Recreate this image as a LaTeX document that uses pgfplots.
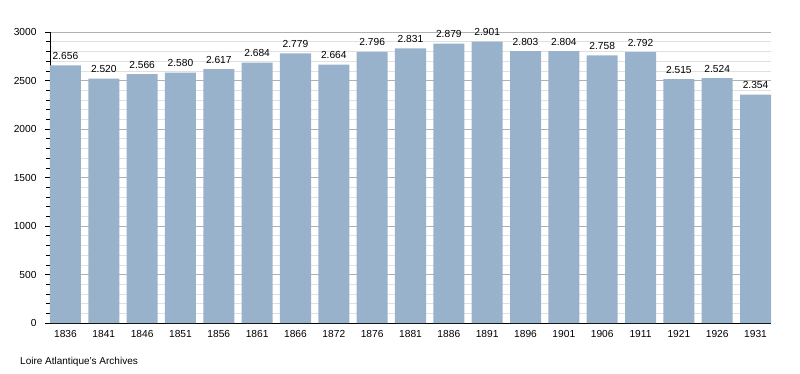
\documentclass[border=0pt]{standalone}
\usepackage{pgfplots}
\pgfplotsset{compat=1.18}
\usepackage{fontspec}
\setmainfont{Liberation Sans}
\definecolor{barblue}{RGB}{153,178,204}
\definecolor{majgrid}{RGB}{176,176,176}
\definecolor{mingrid}{RGB}{224,224,224}
\begin{document}
\begin{tikzpicture}[x=1pt,y=1pt]
\path[use as bounding box] (0,0) rectangle (800,373);
\begin{axis}[
  at={(50pt,50pt)}, anchor=south west,
  scale only axis, width=721pt, height=291pt,
  xmin=-0.404, xmax=18.404, ymin=0, ymax=3000,
  axis lines*=left,
  axis line style={black, line width=0.8pt},
  ytick={0,500,...,3000},
  minor y tick num=4,
  ymajorgrids, yminorgrids,
  major grid style={majgrid, line width=0.6pt},
  minor grid style={mingrid, line width=0.6pt},
  tick align=outside,
  major tick length=5pt, minor tick length=4pt,
  y tick style={black, line width=0.6pt},
  x tick style={draw=none},
  xtick={0,...,18},
  xticklabels={1836,1841,1846,1851,1856,1861,1866,1872,1876,1881,1886,1891,1896,1901,1906,1911,1921,1926,1931},
  tick label style={font=\fontsize{10.2}{12}\selectfont},
  xticklabel style={yshift=1.5pt},
  /pgf/number format/assume math mode=true,
  yticklabel style={xshift=-5pt, /pgf/number format/.cd, 1000 sep={}},
  ybar, bar width=0.809, bar shift=0pt,
  nodes near coords={\pgfmathprintnumber[fixed, 1000 sep={.}, assume math mode=true]{\pgfplotspointmeta}},
  nodes near coords style={font=\fontsize{10.2}{12}\selectfont, black, inner sep=1.5pt, yshift=4pt},
  clip=false,
]
\addplot[fill=barblue, draw=none] coordinates {
(0,2656) (1,2520) (2,2566) (3,2580) (4,2617) (5,2684) (6,2779) (7,2664) (8,2796) (9,2831)
(10,2879) (11,2901) (12,2803) (13,2804) (14,2758) (15,2792) (16,2515) (17,2524) (18,2354)};
\end{axis}
\node[anchor=west, font=\fontsize{10}{11}\selectfont, inner sep=0pt] at (20,11) {Loire Atlantique's Archives};
\end{tikzpicture}
\end{document}
